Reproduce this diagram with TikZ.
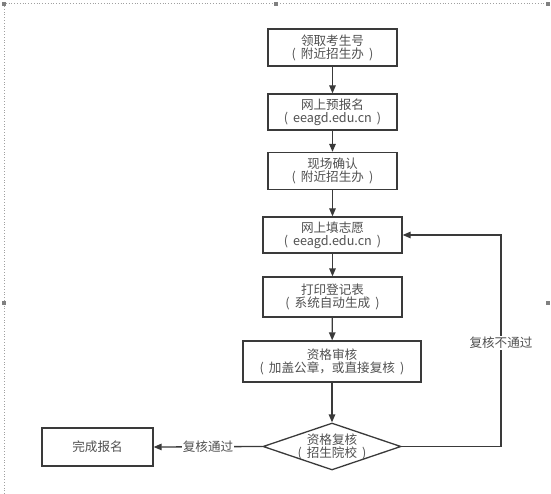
\documentclass[tikz,border=0pt]{standalone}
\usepackage{fontspec}
\newfontfamily\cjk{Noto Sans CJK SC}
\usetikzlibrary{arrows.meta,shapes.geometric}
\definecolor{linec}{HTML}{3A3A3A}
\definecolor{textc}{HTML}{505050}
\definecolor{framec}{HTML}{A0A0A0}
\newcommand{\lp}{(\hspace{0.4em}}
\newcommand{\rp}{\hspace{0.4em})}
\tikzset{
  box/.style={draw=linec, line width=1.3pt, rectangle, inner sep=0pt, align=center,
    text=textc, font=\cjk\fontsize{12.6}{13}\selectfont},
  txt/.style={text=textc, font=\cjk\fontsize{12.6}{13}\selectfont, align=center, inner sep=1pt},
  conn/.style={draw=linec, line width=1.3pt},
  arr/.style={conn, -{Triangle[length=8pt,width=6.5pt]}},
  lbl/.style={txt, fill=white, inner sep=1pt},
  handle/.style={fill=framec!80!black, draw=none, minimum size=4pt, inner sep=0pt, rectangle}
}
\begin{document}
\begin{tikzpicture}[x=1pt,y=-1pt]
\useasboundingbox (0,0) rectangle (551,494);
\fill[white] (0,0) rectangle (551,494);
% selection frame of the screenshot
\draw[framec, dotted, line width=0.8pt] (4,494) -- (4,3) -- (548,3);
\node[handle] (h1) at (4,4) {};
\node[handle] (h2) at (276,4) {};
\node[handle] (h3) at (548,4) {};
\node[handle] (h4) at (4,303) {};
\node[handle] (h5) at (548,303) {};
% boxes
\node[box, minimum width=129pt, minimum height=37pt] (b1) at (332.5,47.5) {领取考生号\\\lp 附近招生办\rp};
\node[box, minimum width=129pt, minimum height=36pt] (b2) at (332.5,112) {网上预报名\\\lp eeagd.edu.cn\rp};
\node[box, minimum width=129pt, minimum height=37pt] (b3) at (332.5,171) {现场确认\\\lp 附近招生办\rp};
\node[box, minimum width=139pt, minimum height=36pt] (b4) at (332.5,235) {网上填志愿\\\lp eeagd.edu.cn\rp};
\node[box, minimum width=139pt, minimum height=40pt] (b5) at (332.5,297) {打印登记表\\\lp 系统自动生成\rp};
\node[box, minimum width=178pt, minimum height=41pt] (b6) at (332,361.5) {资格审核\\\lp 加盖公章，或直接复核\rp};
\node[draw=linec, line width=1.3pt, diamond, minimum width=138pt, minimum height=47pt, inner sep=0pt] (d) at (332,446.5) {};
\node[txt] (dt) at (d.center) {资格复核\\\lp 招生院校\rp};
\node[box, minimum width=111pt, minimum height=38pt] (b7) at (97.5,447) {完成报名};
% connectors
\draw[arr] (b1) -- (b2);
\draw[arr] (b2) -- (b3);
\draw[arr] (b3) -- (b4);
\draw[arr] (b4) -- (b5);
\draw[arr] (b5) -- (b6);
\draw[arr] (b6) -- (d.north);
\draw[arr] (d.west) -- node[lbl] {复核通过} (b7.east);
\coordinate (c1) at (501,446.5);
\coordinate (c2) at (501,235);
\draw[arr] (d.east) -- (c1) -- node[lbl, pos=0.49] {复核不通过} (c2) -- (b4.east);
\end{tikzpicture}
\end{document}
